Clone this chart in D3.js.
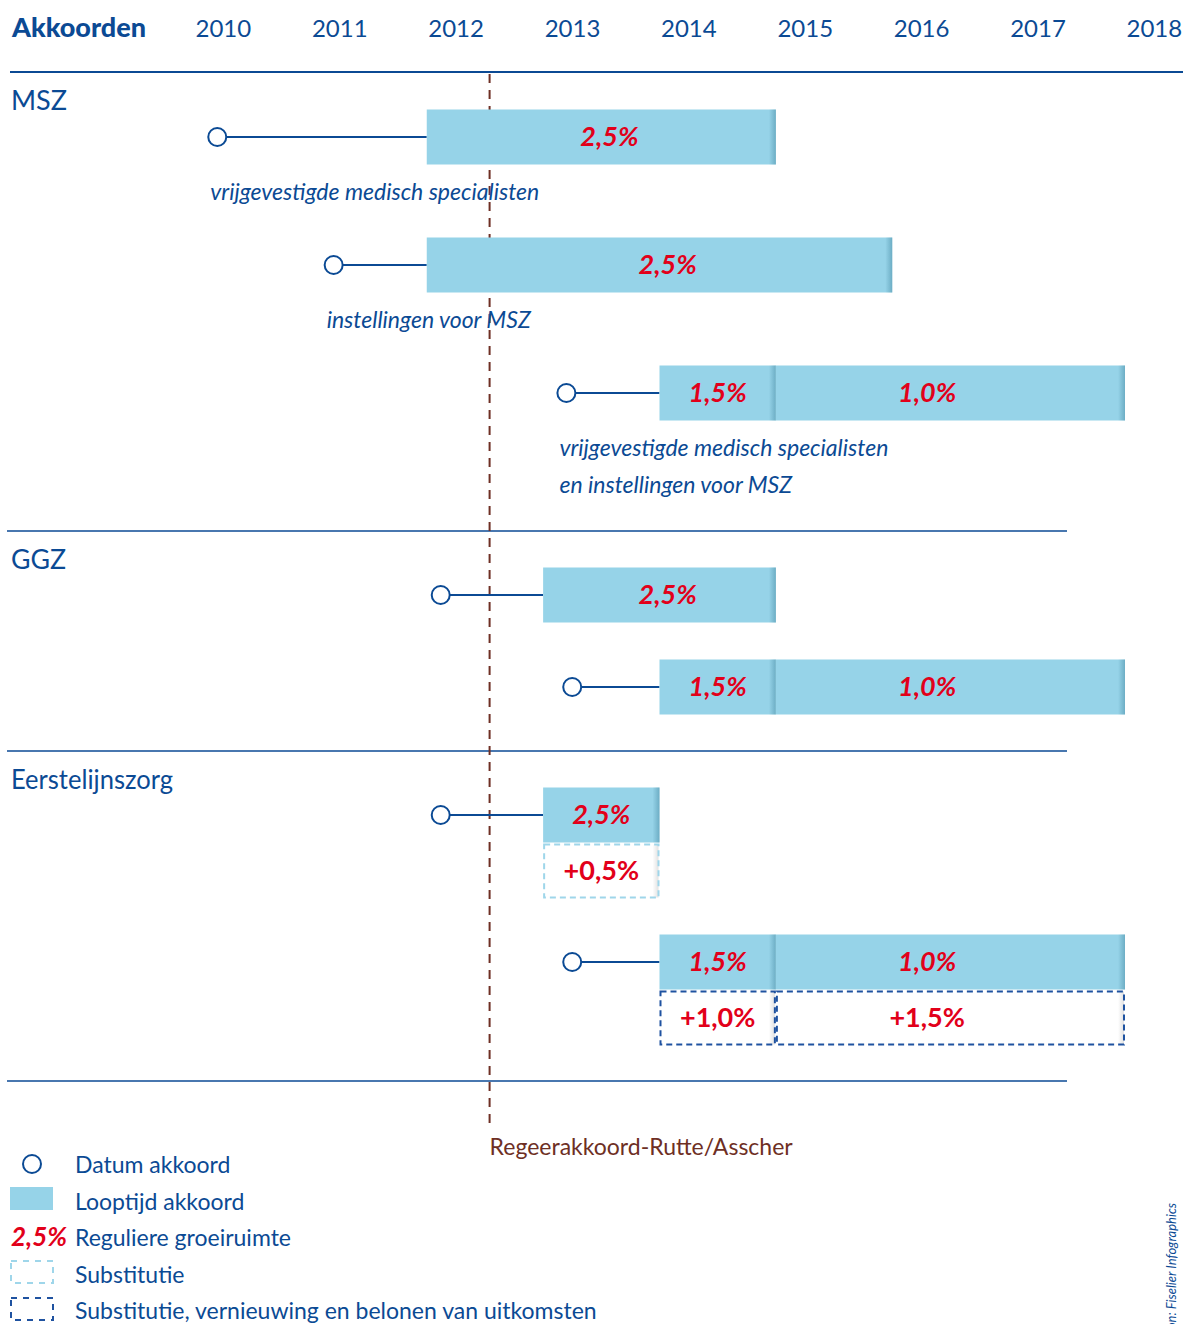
<!DOCTYPE html>
<html><head><meta charset="utf-8">
<script src="https://cdn.jsdelivr.net/npm/d3@7/dist/d3.min.js"></script>
<style>
html,body{margin:0;padding:0;background:#fff;}
svg{display:block;font-family:Lato,"Open Sans",sans-serif;}
</style></head>
<body>
<script>
// ---------- DATA ----------
const years = [2010, 2011, 2012, 2013, 2014, 2015, 2016, 2017, 2018];
const sections = ["MSZ", "GGZ", "Eerstelijnszorg"];
const rowSection = [0, 0, 0, 1, 1, 2, 2];
const agreementDates = [2010.2, 2011.2, 2013.2, 2012.12, 2013.25, 2012.12, 2013.25];
const segRow     = [0, 1, 2, 2, 3, 4, 4, 5, 6, 6];
const segFrom    = [2012, 2012, 2014, 2015, 2013, 2014, 2015, 2013, 2014, 2015];
const segTo      = [2015, 2016, 2015, 2018, 2015, 2015, 2018, 2014, 2015, 2018];
const segLabel   = ["2,5%", "2,5%", "1,5%", "1,0%", "2,5%", "1,5%", "1,0%", "2,5%", "1,5%", "1,0%"];
const segLabelAt = [2013.57, 2014.07, 2014.5, 2016.3, 2014.07, 2014.5, 2016.3, 2013.5, 2014.5, 2016.3];
const subRow     = [5, 6, 6];
const subFrom    = [2013, 2014, 2015];
const subTo      = [2014, 2015, 2018];
const subLabel   = ["+0,5%", "+1,0%", "+1,5%"];
const subLabelAt = [2013.5, 2014.5, 2016.3];
const subType    = ["substitutie", "vernieuwing", "vernieuwing"];
const captions = [
  ["vrijgevestigde medisch specialisten"],
  ["instellingen voor MSZ"],
  ["vrijgevestigde medisch specialisten", "en instellingen voor MSZ"],
  [], [], [], []
];
const regeerakkoordDate = 2012.54;
const regeerakkoordLabel = "Regeerakkoord-Rutte/Asscher";
const legendLabels = ["Datum akkoord", "Looptijd akkoord", "Reguliere groeiruimte", "Substitutie", "Substitutie, vernieuwing en belonen van uitkomsten"];
const legendSample = "2,5%";
const credit = "Bron: Fiselier Infographics";

// ---------- LAYOUT ----------
const W = 1183, H = 1324;
const BLUE = "#0b4a94", RED = "#e2001a", BAR = "#96d3e8", BROWN = "#6e2f24", LIGHTDASH = "#9fd6ea", DARKDASH = "#1f52a0";
const rowY = [137, 265, 393, 595, 687, 815, 962]; // row centres
const barH = 55, subH = 53;
const sectionLabelY = [110, 569, 789];
const separatorsY = [531, 751, 1081];

const svg = d3.select("body").append("svg").attr("width", W).attr("height", H);
const x = d3.scaleLinear().domain([2010, 2018]).range([194, 1125]);

const defs = svg.append("defs");
const g1 = defs.append("linearGradient").attr("id", "edge").attr("x1", 0).attr("x2", 1).attr("y1", 0).attr("y2", 0);
g1.append("stop").attr("offset", 0).attr("stop-color", "#3a7f99").attr("stop-opacity", 0);
g1.append("stop").attr("offset", 1).attr("stop-color", "#3a7f99").attr("stop-opacity", 0.45);
const g2 = defs.append("linearGradient").attr("id", "edge2").attr("x1", 0).attr("x2", 1).attr("y1", 0).attr("y2", 0);
g2.append("stop").attr("offset", 0).attr("stop-color", "#000").attr("stop-opacity", 0);
g2.append("stop").attr("offset", 1).attr("stop-color", "#000").attr("stop-opacity", 0.12);

// header
svg.append("text").attr("x", 12).attr("y", 37).attr("font-size", 27).attr("font-weight", 900)
  .attr("fill", BLUE).text("Akkoorden");
const axis = d3.axisTop(x).tickValues(years).tickFormat(d3.format("d")).tickSize(0).tickPadding(0);
const ax = svg.append("g").attr("transform", "translate(0,37)").call(axis);
ax.select(".domain").remove();
ax.selectAll("text").attr("font-size", 24).attr("fill", BLUE).attr("text-anchor", "start")
  .attr("font-family", "Lato, sans-serif").attr("dy", 0).attr("dx", 1);
svg.append("line").attr("x1", 10).attr("x2", W).attr("y1", 72).attr("y2", 72)
  .attr("stroke", BLUE).attr("stroke-width", 2);

// section labels
svg.selectAll(".sec").data(sections).join("text")
  .attr("x", 11).attr("y", (d, i) => sectionLabelY[i]).attr("font-size", 26).attr("fill", BLUE)
  .attr("textLength", (d, i) => [56, 55, 162][i]).attr("lengthAdjust", "spacingAndGlyphs").text(d => d);

// separators
svg.selectAll(".sep").data(separatorsY).join("line")
  .attr("x1", 7).attr("x2", 1067).attr("y1", d => d).attr("y2", d => d)
  .attr("stroke", BLUE).attr("stroke-width", 1.5);

// regeerakkoord line
svg.append("line").attr("x1", x(regeerakkoordDate)).attr("x2", x(regeerakkoordDate))
  .attr("y1", 74).attr("y2", 1124).attr("stroke", BROWN).attr("stroke-width", 2)
  .attr("stroke-dasharray", "9 7");
svg.append("text").attr("x", x(regeerakkoordDate)).attr("y", 1155).attr("font-size", 23)
  .attr("fill", BROWN).text(regeerakkoordLabel);

// connector lines
agreementDates.forEach((d, r) => {
  const start = d3.min(segFrom.filter((f, i) => segRow[i] === r));
  svg.append("line").attr("x1", x(d)).attr("x2", x(start)).attr("y1", rowY[r]).attr("y2", rowY[r])
    .attr("stroke", BLUE).attr("stroke-width", 2);
});

// bars
segRow.forEach((r, i) => {
  const x0 = x(segFrom[i]), x1 = x(segTo[i]);
  const y0 = rowY[r] - barH / 2;
  svg.append("rect").attr("x", x0).attr("y", y0).attr("width", x1 - x0).attr("height", barH).attr("fill", BAR);
  svg.append("rect").attr("x", x1 - 7).attr("y", y0).attr("width", 7).attr("height", barH).attr("fill", "url(#edge)");
  svg.append("text").attr("x", x(segLabelAt[i])).attr("y", rowY[r] + 9).attr("text-anchor", "middle")
    .attr("font-size", 27).attr("font-weight", 700).attr("font-style", "italic").attr("fill", RED)
    .text(segLabel[i]);
});

// dots on top
agreementDates.forEach((d, r) => {
  svg.append("circle").attr("cx", x(d)).attr("cy", rowY[r]).attr("r", 9)
    .attr("fill", "#fff").attr("stroke", BLUE).attr("stroke-width", 2);
});

// substitution boxes
subRow.forEach((r, i) => {
  const x0 = x(subFrom[i]), x1 = x(subTo[i]);
  const y0 = rowY[r] + barH / 2 + 2;
  const col = subType[i] === "substitutie" ? LIGHTDASH : DARKDASH;
  svg.append("rect").attr("x", x1 - 7).attr("y", y0).attr("width", 6).attr("height", subH).attr("fill", "url(#edge2)");
  svg.append("rect").attr("x", x0 + 1).attr("y", y0).attr("width", x1 - x0 - 2).attr("height", subH)
    .attr("fill", "none").attr("stroke", col).attr("stroke-width", 2).attr("stroke-dasharray", "6 4");
  svg.append("text").attr("x", x(subLabelAt[i])).attr("y", y0 + subH / 2 + 9).attr("text-anchor", "middle")
    .attr("font-size", 27).attr("font-weight", 700).attr("fill", RED).text(subLabel[i]);
});

// captions
captions.forEach((lines, r) => {
  const dx = x(agreementDates[r]) - 7;
  lines.forEach((t, j) => {
    svg.append("text").attr("x", dx).attr("y", rowY[r] + 63 + j * 37).attr("font-size", 23)
      .attr("font-style", "italic").attr("fill", BLUE).text(t);
  });
});

// legend
const lgY = [1173, 1210, 1246, 1283, 1319];
svg.selectAll(".lg").data(legendLabels).join("text")
  .attr("x", 75).attr("y", (d, i) => lgY[i]).attr("font-size", 23).attr("fill", BLUE).text(d => d);
svg.append("circle").attr("cx", 32).attr("cy", 1164).attr("r", 9).attr("fill", "#fff")
  .attr("stroke", BLUE).attr("stroke-width", 2);
svg.append("rect").attr("x", 10).attr("y", 1187).attr("width", 43).attr("height", 23).attr("fill", BAR);
svg.append("text").attr("x", 11).attr("y", 1246).attr("font-size", 26).attr("font-weight", 700)
  .attr("font-style", "italic").attr("fill", RED).text(legendSample);
svg.append("rect").attr("x", 11).attr("y", 1261).attr("width", 42).attr("height", 22).attr("fill", "none")
  .attr("stroke", LIGHTDASH).attr("stroke-width", 2).attr("stroke-dasharray", "6 6");
svg.append("rect").attr("x", 11).attr("y", 1298).attr("width", 42).attr("height", 22).attr("fill", "none")
  .attr("stroke", DARKDASH).attr("stroke-width", 2).attr("stroke-dasharray", "6 6");

// credit (vertical, runs off the bottom edge as in the reference)
svg.append("text").attr("transform", "translate(1176,1203) rotate(-90)").attr("text-anchor", "end")
  .attr("font-size", 13).attr("font-style", "italic").attr("fill", BLUE).text(credit);
</script>
</body></html>
